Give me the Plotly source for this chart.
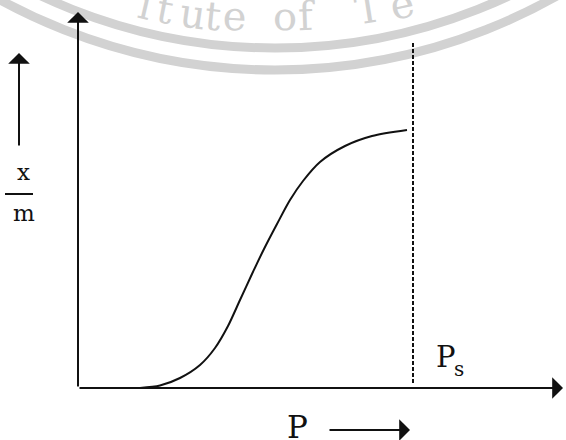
import plotly.graph_objects as go

# adsorption isotherm, x/m against P (arbitrary units, origin at the axes corner)
pressure = [6.2, 8.2, 10.2, 12.2, 13.7, 15.0, 16.2, 17.4, 18.6, 19.9, 21.2, 22.5, 24.2, 26.7, 29.4, 32.9]
x_over_m = [0.0, 0.25, 1.0, 2.3, 4.0, 6.2, 8.8, 11.4, 13.9, 16.4, 18.8, 20.7, 22.6, 24.2, 25.2, 25.8]
p_sat = 33.5
p_sat_top = 34.6

# faint seal watermark from the scanned page
wm_letters = ['i', 't', 'u', 't', 'e', 'o', 'f', 'T', 'e']
wm_x = [6.7, 8.7, 11.5, 13.5, 15.7, 20.7, 22.9, 29.0, 32.4]
wm_y = [38.3, 37.9, 37.4, 37.2, 37.2, 37.2, 37.2, 37.9, 38.4]
wm_angle = [13, 11, 8, 6, 4, 0, -2, -9, -12]

INK = '#111111'
WM = '#d2d2d2'

fig = go.Figure()

fig.add_trace(go.Scatter(
    x=pressure, y=x_over_m, mode='lines',
    line=dict(color=INK, width=2, shape='spline', smoothing=0.8),
    hoverinfo='skip', showlegend=False
))
fig.add_trace(go.Scatter(
    x=[p_sat, p_sat], y=[0.5, p_sat_top], mode='lines',
    line=dict(color=INK, width=2, dash='4px,2px'),
    hoverinfo='skip', showlegend=False
))

# watermark rings
fig.add_shape(type='circle', x0=-35.4, x1=74.8, y0=34.0, y1=144.2,
              line=dict(color=WM, width=9), layer='below')
fig.add_shape(type='circle', x0=-37.6, x1=77.0, y0=31.8, y1=146.4,
              line=dict(color=WM, width=9), layer='below')
for ch, x, y, a in zip(wm_letters, wm_x, wm_y, wm_angle):
    fig.add_annotation(x=x, y=y, text=ch, showarrow=False, textangle=a,
                       font=dict(family='DejaVu Serif', size=40, color=WM))

# axes drawn as arrows
arrow = dict(showarrow=True, arrowhead=1, arrowsize=1.8, arrowwidth=2,
             arrowcolor=INK, axref='x', ayref='y', text='')
fig.add_annotation(x=0, y=37.6, ax=0, ay=0, **arrow)
fig.add_annotation(x=48.5, y=0, ax=0, ay=0, **arrow)
fig.add_annotation(x=-5.9, y=33.5, ax=-5.9, ay=24.1, **arrow)
fig.add_annotation(x=33.2, y=-4.2, ax=25.0, ay=-4.2, **arrow)

serif = dict(family='DejaVu Serif', color=INK)
fig.add_annotation(x=-5.5, y=21.6, text='x', showarrow=False, font=dict(size=23, **serif))
fig.add_annotation(x=-5.4, y=17.5, text='m', showarrow=False, font=dict(size=23, **serif))
fig.add_shape(type='line', x0=-7.3, x1=-4.5, y0=19.4, y1=19.4, line=dict(color=INK, width=2))
fig.add_annotation(x=21.9, y=-3.9, text='P', showarrow=False, font=dict(size=31, **serif))
fig.add_annotation(x=36.8, y=3.1, text='P', showarrow=False, font=dict(size=29, **serif))
fig.add_annotation(x=38.1, y=1.9, text='s', showarrow=False, font=dict(size=20, **serif))

fig.update_layout(
    width=566, height=440,
    margin=dict(l=0, r=0, t=0, b=0),
    plot_bgcolor='white', paper_bgcolor='white',
    xaxis=dict(range=[-7.8, 48.8], visible=False, fixedrange=True),
    yaxis=dict(range=[-5.2, 38.8], visible=False, fixedrange=True),
)

fig.write_html("out.html", config={'displayModeBar': False},
               post_script="document.body.style.margin='0';")
